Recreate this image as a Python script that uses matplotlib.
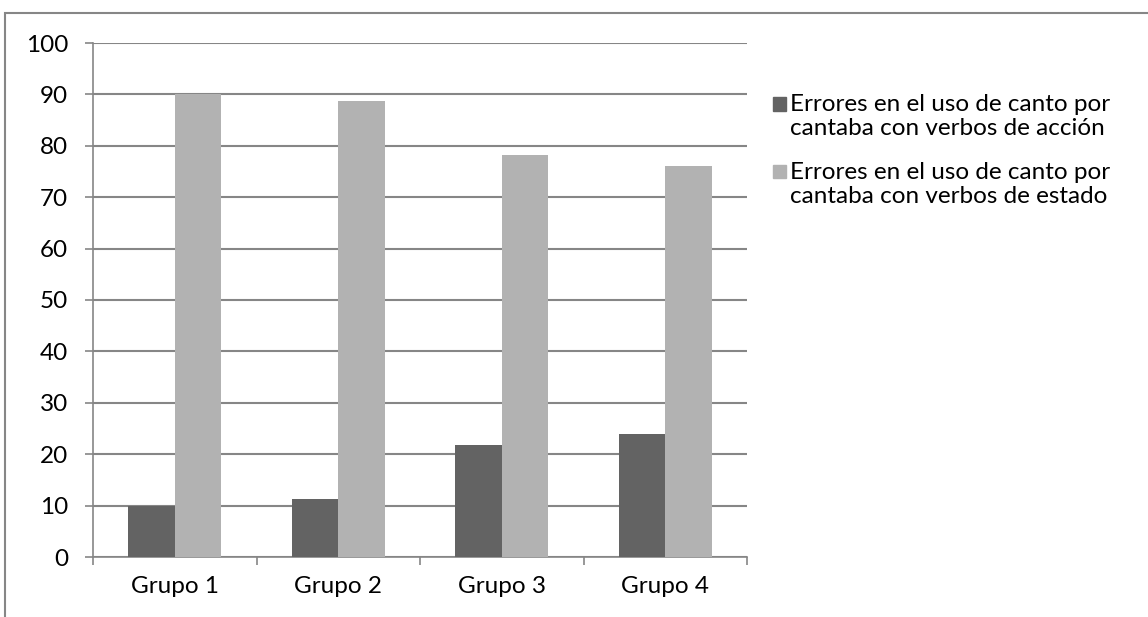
import numpy as np
import matplotlib.pyplot as plt
from matplotlib.patches import Rectangle

groups = ["Grupo 1", "Grupo 2", "Grupo 3", "Grupo 4"]
accion = [10.0, 11.2, 21.8, 23.9]
estado = [90.0, 88.8, 78.2, 76.1]
labels = ["Errores en el uso de canto por\ncantaba con verbos de acción",
          "Errores en el uso de canto por\ncantaba con verbos de estado"]
yticks = list(range(0, 101, 10))

plt.rcParams['font.family'] = ['Lato', 'DejaVu Sans']
grid_col = "#868686"
colors = ["#636363", "#b2b2b2"]
fs = 17.5

W, H = 1148, 617
fig = plt.figure(figsize=(W / 100, H / 100), dpi=100)
ax = fig.add_axes([93 / W, (H - 557) / H, (747 - 93) / W, (557 - 43) / H])

x = np.arange(len(groups))
width = 1 / 3.5
ax.bar(x - width / 2, accion, width, color=colors[0], zorder=3)
ax.bar(x + width / 2, estado, width, color=colors[1], zorder=3)

ax.set_xlim(-0.5, len(groups) - 0.5)
ax.set_ylim(0, 100)
ax.set_yticks(yticks)
ax.yaxis.grid(True, color=grid_col, linewidth=1.5, zorder=0)
ax.set_xticks(x)
ax.set_xticklabels(groups)
ax.set_xticks(np.arange(-0.5, len(groups)), minor=True)
ax.tick_params(axis="x", which="major", length=0, pad=14, labelsize=fs)
ax.tick_params(axis="x", which="minor", length=6, color=grid_col, width=1.2)
ax.tick_params(axis="y", length=6, color=grid_col, width=1.2, pad=12, labelsize=fs)

for s in ["top", "right"]:
    ax.spines[s].set_visible(False)
for s in ["left", "bottom"]:
    ax.spines[s].set_color(grid_col)
    ax.spines[s].set_linewidth(1.2)

# legend: square marker beside the first line of each two-line label
for i, (lab, col) in enumerate(zip(labels, colors)):
    y_first = 104 + i * 68
    fig.add_artist(Rectangle((773 / W, (H - y_first - 6.5) / H), 13 / W, 13 / H,
                             transform=fig.transFigure, color=col))
    fig.text(790 / W, (H - y_first - 12.5) / H, lab, fontsize=fs,
             va="center", ha="left", linespacing=1.18)

# chart frame
fig.add_artist(Rectangle((5 / W, -0.1), 2, (H - 13) / H + 0.1,
                         transform=fig.transFigure, fill=False,
                         edgecolor=grid_col, linewidth=1.5))

fig.savefig("out.png", dpi=100)
